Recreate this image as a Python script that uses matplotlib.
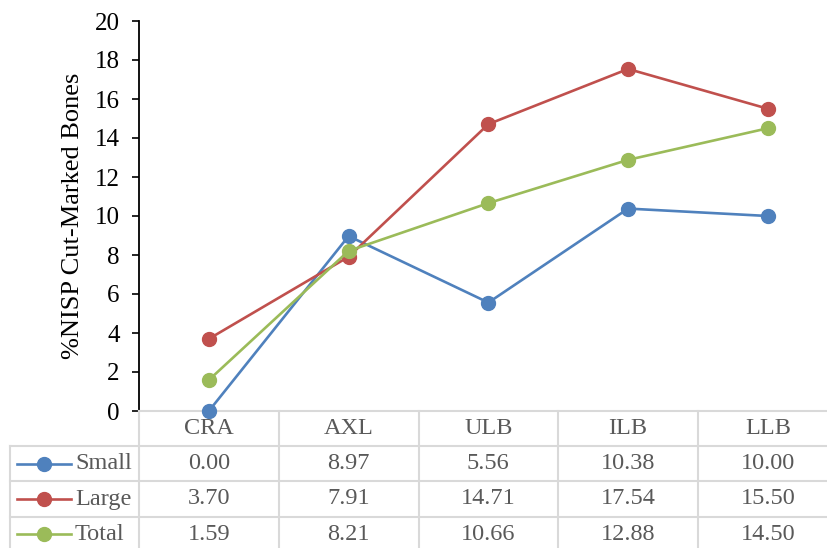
import matplotlib
matplotlib.use("Agg")
import matplotlib.pyplot as plt
from matplotlib.lines import Line2D

# Data
categories = ["CRA", "AXL", "ULB", "ILB", "LLB"]
series_names = ["Small", "Large", "Total"]
small = [0.00, 8.97, 5.56, 10.38, 10.00]
large = [3.70, 7.91, 14.71, 17.54, 15.50]
total = [1.59, 8.21, 10.66, 12.88, 14.50]
y_ticks = [0, 2, 4, 6, 8, 10, 12, 14, 16, 18, 20]
y_label = "%NISP Cut-Marked Bones"

series = [small, large, total]
colors = ["#4F81BD", "#C0504D", "#9BBB59"]
text_color = "#595959"
grid_color = "#D9D9D9"

plt.rcParams["font.family"] = ["Liberation Serif", "DejaVu Serif"]

W, H = 827, 548
fig = plt.figure(figsize=(W / 100, H / 100), dpi=100)

# plot area in pixel terms (left, top, right, bottom)
px_left, px_top, px_bottom = 139, 21, 411
col_w = 139.75
px_right = px_left + col_w * len(categories)


def fx(px):
    return px / W


def fy(py):
    return 1 - py / H


ax = fig.add_axes([fx(px_left), fy(px_bottom), fx(px_right - px_left),
                   (px_bottom - px_top) / H])
ax.set_xlim(-0.5, len(categories) - 0.5)
ax.set_ylim(0, 20)
ax.set_yticks(y_ticks)
ax.set_xticks([])
ax.tick_params(axis="y", direction="out", length=5, width=1.2, colors="black",
               labelsize=18, pad=9)
for s in ["top", "right"]:
    ax.spines[s].set_visible(False)
ax.spines["left"].set_color("black")
ax.spines["left"].set_linewidth(1.3)
ax.spines["bottom"].set_color(grid_color)
ax.spines["bottom"].set_linewidth(1.5)
ax.set_ylabel(y_label, fontsize=19)
ax.yaxis.set_label_coords((84 - px_left) / (px_right - px_left), 0.5)

x = list(range(len(categories)))
for vals, c in zip(series, colors):
    ax.plot(x, vals, color=c, lw=1.9, marker="o", markersize=10,
            markerfacecolor=c, markeredgecolor=c, clip_on=False, zorder=3)

# Data table beneath the plot
row_h = 35.2
tab_left = 10
rows_y = [px_bottom + row_h * i for i in range(5)]


def hline(y, x0, x1):
    fig.add_artist(Line2D([fx(x0), fx(x1)], [fy(y), fy(y)], color=grid_color,
                          lw=1.5, transform=fig.transFigure))


def vline(xp, y0, y1):
    fig.add_artist(Line2D([fx(xp), fx(xp)], [fy(y0), fy(y1)], color=grid_color,
                          lw=1.5, transform=fig.transFigure))


for i, yy in enumerate(rows_y):
    if i == 0:
        continue
    hline(yy, tab_left, px_right + 5)
vline(tab_left, rows_y[1], H + 5)
for k in range(len(categories) + 1):
    vline(px_left + col_w * k, px_bottom, H + 5)

# header row
for i, cat in enumerate(categories):
    cx = px_left + col_w * (i + 0.5)
    fig.text(fx(cx), fy(px_bottom + row_h / 2), cat, ha="center", va="center",
             fontsize=17.5, color=text_color)

# body rows
for r, (name, vals, c) in enumerate(zip(series_names, series, colors)):
    cy = px_bottom + row_h * (r + 1.5)
    fig.add_artist(Line2D([fx(17), fx(71)], [fy(cy), fy(cy)], color=c, lw=1.9,
                          transform=fig.transFigure))
    fig.add_artist(Line2D([fx(43.5)], [fy(cy)], color=c, marker="o",
                          markersize=10, transform=fig.transFigure))
    fig.text(fx(75), fy(cy), name, ha="left", va="center", fontsize=17.5,
             color=text_color)
    for i, v in enumerate(vals):
        cx = px_left + col_w * (i + 0.5)
        fig.text(fx(cx), fy(cy), f"{v:.2f}", ha="center", va="center",
                 fontsize=17.5, color=text_color)

fig.savefig("out.png", dpi=100)
